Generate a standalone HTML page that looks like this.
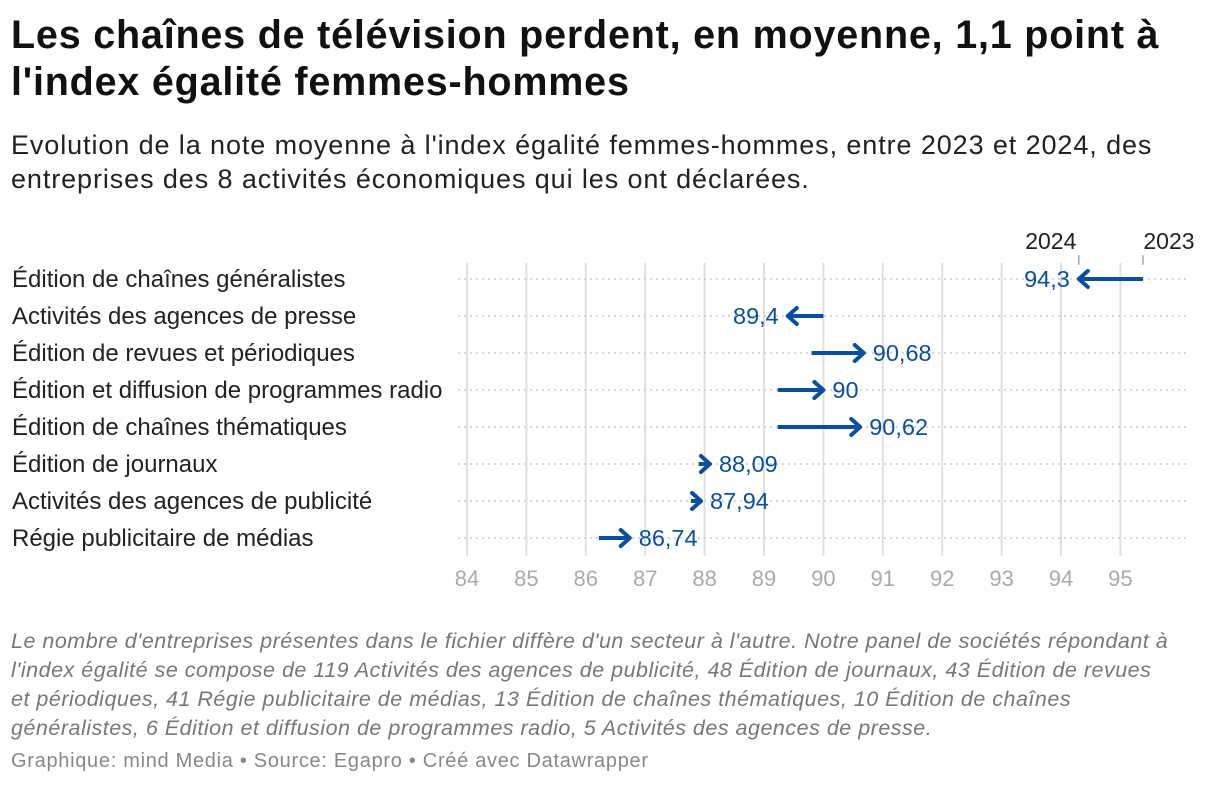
<!DOCTYPE html>
<html><head><meta charset="utf-8"><style>
body{margin:0;background:#fff;width:1220px;height:788px;overflow:hidden;font-family:"Liberation Sans",sans-serif;}
h1{position:absolute;left:11px;top:12px;margin:0;font-size:39.5px;line-height:47px;font-weight:bold;color:#111;letter-spacing:0.8px;width:1200px}
.sub{position:absolute;left:11px;top:128px;font-size:27px;line-height:34px;color:#222;width:1205px;letter-spacing:0.9px}
.note{position:absolute;left:11px;top:627px;font-size:21.5px;line-height:29px;color:#777;font-style:italic;white-space:nowrap;letter-spacing:0.5px}
.src{position:absolute;left:11px;top:750px;font-size:20px;color:#888;letter-spacing:0.7px}
svg{position:absolute;left:0;top:0}
</style></head><body>
<h1>Les chaînes de télévision perdent, en moyenne, 1,1 point à l'index égalité femmes-hommes</h1>
<div class="sub">Evolution de la note moyenne à l'index égalité femmes-hommes, entre 2023 et 2024, des entreprises des 8 activités économiques qui les ont déclarées.</div>
<svg id="chart" width="1220" height="788"></svg>
<div class="note">Le nombre d'entreprises présentes dans le fichier diffère d'un secteur à l'autre. Notre panel de sociétés répondant à<br>l'index égalité se compose de 119 Activités des agences de publicité, 48 Édition de journaux, 43 Édition de revues<br>et périodiques, 41 Régie publicitaire de médias, 13 Édition de chaînes thématiques, 10 Édition de chaînes<br>généralistes, 6 Édition et diffusion de programmes radio, 5 Activités des agences de presse.</div>
<div class="src">Graphique: mind Media • Source: Egapro • Créé avec Datawrapper</div>
<script>
const categories=["Édition de chaînes généralistes","Activités des agences de presse","Édition de revues et périodiques","Édition et diffusion de programmes radio","Édition de chaînes thématiques","Édition de journaux","Activités des agences de publicité","Régie publicitaire de médias"];
const values2023=[95.38,90.0,89.8,89.23,89.23,87.9,87.77,86.22];
const values2024=[94.3,89.4,90.68,90,90.62,88.09,87.94,86.74];
const labels2024=["94,3","89,4","90,68","90","90,62","88,09","87,94","86,74"];
const ticks=[84,85,86,87,88,89,90,91,92,93,94,95];
const NS="http://www.w3.org/2000/svg";
const svg=document.getElementById('chart');
const x=v=>467+(v-84)*59.4;
const y=i=>279+i*37;
function mk(t,a){const e=document.createElementNS(NS,t);for(const k in a)e.setAttribute(k,a[k]);svg.appendChild(e);return e;}
ticks.forEach(t=>{
 const g=mk('line',{x1:x(t),x2:x(t),y1:263,y2:556,stroke:'#e0e0e0','stroke-width':2});
 
 
 const tx=mk('text',{x:x(t),y:586,'text-anchor':'middle','font-size':22,fill:'#aaa','font-family':'Liberation Sans, sans-serif'});
 tx.textContent=t;
 
 
});
categories.forEach((c,i)=>{
 const r=mk('line',{x1:458,x2:1190,y1:y(i),y2:y(i),stroke:'#ccc','stroke-width':1.5,'stroke-dasharray':'2 4'});
 
 
 const l=mk('text',{x:12,y:y(i)+8,'font-size':24,fill:'#222','font-family':'Liberation Sans, sans-serif'});
 l.textContent=c;
 
 
 const a=x(values2023[i]),b=x(values2024[i]),d=b>a?1:-1;
 const ln=mk('line',{x1:a,x2:b-d*2,y1:y(i),y2:y(i),stroke:'#0a4f9e','stroke-width':4});
 
 
 const hd=mk('polyline',{points:`${b-d*9},${y(i)-8} ${b},${y(i)} ${b-d*9},${y(i)+8}`,fill:'none',stroke:'#0a4f9e','stroke-width':4,'stroke-linecap':'round','stroke-linejoin':'round'});
 
 
 const v=mk('text',{x:b+d*9,y:y(i)+8,'text-anchor':d>0?'start':'end','font-size':23.5,fill:'#0a4f9e','font-family':'Liberation Sans, sans-serif'});
 v.textContent=labels2024[i];
 
 
});
[[values2024[0],'2024'],[values2023[0],'2023']].forEach(([v,t])=>{
 const k=mk('line',{x1:x(v),x2:x(v),y1:255,y2:265,stroke:'#aaa','stroke-width':1.5});
 
 
 const tx=mk('text',{x:x(v)+(t==='2023'?26:-28),y:249,'text-anchor':'middle','font-size':23,fill:'#222','font-family':'Liberation Sans, sans-serif'});
 tx.textContent=t;
 
 
});
</script>
</body></html>
